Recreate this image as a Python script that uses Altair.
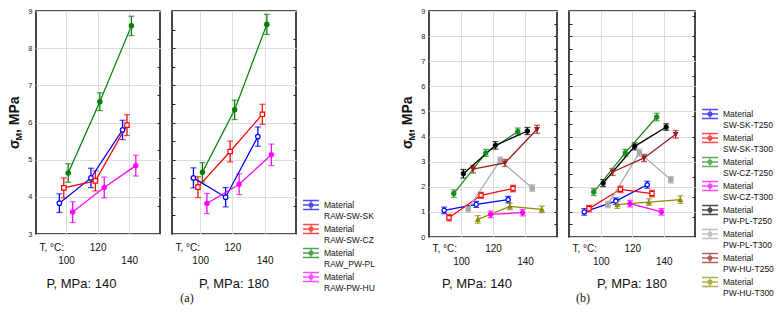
import altair as alt
import pandas as pd

# ---------------- data ----------------
T_VALUES = [100, 120, 140]
P_VALUES = [140, 180]

A_SERIES = ["RAW-SW-SK", "RAW-SW-CZ", "RAW_PW-PL", "RAW-PW-HU"]
A140_MEAN = [[3.83, 4.51, 5.80], [4.24, 4.43, 5.93], [4.64, 6.56, 8.60], [3.59, 4.25, 4.84]]
A140_ERR = [[0.25, 0.26, 0.26], [0.27, 0.27, 0.28], [0.25, 0.24, 0.26], [0.28, 0.28, 0.28]]
A180_MEAN = [[4.51, 3.99, 5.62], [4.26, 5.22, 6.22], [4.66, 6.34, 8.64], [3.82, 4.34, 5.13]]
A180_ERR = [[0.27, 0.26, 0.26], [0.28, 0.28, 0.27], [0.26, 0.26, 0.27], [0.27, 0.28, 0.29]]

B_SERIES = ["SW-SK-T250", "SW-SK-T300", "SW-CZ-T250", "SW-CZ-T300",
            "PW-PL-T250", "PW-PL-T300", "PW-HU-T250", "PW-HU-T300"]
B140_MEAN = [[1.06, 1.30, 1.49], [0.77, 1.66, 1.93], [1.73, 3.35, 4.20], [None, 0.90, 0.97],
             [2.52, 3.65, 4.22], [1.13, 3.05, 1.95], [2.70, 2.95, 4.29], [0.70, 1.22, 1.10]]
B140_ERR = [[0.13, 0.12, 0.13], [0.13, 0.12, 0.13], [0.15, 0.14, 0.14], [0.13, 0.13, 0.13],
            [0.17, 0.15, 0.14], [0.13, 0.14, 0.13], [0.15, 0.14, 0.16], [0.15, 0.13, 0.13]]
B180_MEAN = [[1.00, 1.43, 2.08], [1.13, 1.90, 1.73], [1.79, 3.35, 4.78], [None, 1.33, 1.00],
             [2.15, 3.61, 4.38], [1.30, 3.36, 2.28], [2.59, 3.15, 4.09], [1.29, 1.39, 1.49]]
B180_ERR = [[0.13, 0.13, 0.14], [0.13, 0.13, 0.13], [0.14, 0.14, 0.15], [0.13, 0.13, 0.13],
            [0.14, 0.14, 0.13], [0.13, 0.14, 0.13], [0.14, 0.14, 0.15], [0.15, 0.13, 0.15]]

# ---------------- styles ----------------
A_COLORS = ["#0000ff", "#ff0000", "#008000", "#ff00ff"]
A_SHAPES = ["circle", "square", "circle", "circle"]
A_FILLS = ["#ffffff", "#ffffff", "#008000", "#ff00ff"]
A_SIZES = [20, 18, 6, 3]
A_OFFSETS = [-4.2, -1.4, 1.4, 4.2]

B_COLORS = ["#0000ff", "#ff0000", "#1a8c1a", "#ff00ff", "#000000", "#a8a8a8", "#9b1b1b", "#8c8c00"]
B_SHAPES = ["circle", "square", "circle", "circle", "circle", "square", "triangle-down", "triangle-up"]
B_FILLS = ["#ffffff", "#ffffff", "#1a8c1a", "#ff00ff", "#000000", "#a8a8a8", "#9b1b1b", "#8c8c00"]
B_SIZES = [18, 16, 10, 3, 12, 12, 6, 5]
B_OFFSETS = [-10.5, -7.5, -4.5, -1.5, 1.5, 4.5, 7.5, 10.5]

FONT = "Liberation Sans"
GRID = "#dcdcdc"
SYMBOL = ("M-1,-0.56H1M-1,0.56H1M0,-0.56V0.56M-1,0H1"
          "M-0.24,0a0.24,0.24 0 1,0 0.48,0a0.24,0.24 0 1,0 -0.48,0")


def text_layer(text, x, y, size, **kw):
    return alt.Chart(pd.DataFrame({"t": [text]})).mark_text(
        fontSize=size, font=kw.pop("font", FONT), color="#111", **kw
    ).encode(text="t:N", x=alt.value(x), y=alt.value(y))


def panel(series, colors, shapes, fills, sizes, offsets, means, errs, P,
          xdomain, width, height, ydomain, yvals, left_labels, left_ticks,
          right_ticks, lab_pad, ptext_x, legend, extras):
    rows = []
    for i, s in enumerate(series):
        for j, t in enumerate(T_VALUES):
            m = means[i][j]
            if m is None:
                continue
            rows.append({"series": s, "T": t, "mean": m,
                         "lo": m - errs[i][j], "hi": m + errs[i][j], "off": offsets[i]})
    df = pd.DataFrame(rows)
    base = alt.Chart(df).transform_calculate(xpos="datum.T + datum.off",
                                             marker="'m_' + datum.series")
    mdom = ["m_" + s for s in series]

    xaxis = alt.Axis(values=T_VALUES, title="T, °C:", titleX=3, titleY=lab_pad[0] + 5,
                     titleAlign="left", titleBaseline="middle", titleFontWeight="normal",
                     titleFontSize=10, titleFont=FONT, titleColor="#111",
                     labelFontSize=10, labelFont=FONT, labelColor="#111",
                     labelPadding=alt.condition("datum.value == 120",
                                                alt.value(lab_pad[0]), alt.value(lab_pad[1])),
                     labelFlush=False, labelOverlap=False, ticks=False, domain=False,
                     grid=True, gridColor=GRID, gridWidth=1)
    x = alt.X("xpos:Q", scale=alt.Scale(domain=xdomain, nice=False, zero=False), axis=xaxis)
    yscale = alt.Scale(domain=ydomain, nice=False, zero=False)
    color = alt.Color("series:N", scale=alt.Scale(domain=series, range=colors), legend=legend)

    if left_labels:
        left_axis = alt.Axis(values=yvals, title=None, labelFontSize=7.5, labelFont=FONT,
                             labelColor="#222", ticks=False, domain=False, grid=True,
                             gridColor=GRID, labelPadding=4)
    else:
        left_axis = alt.Axis(values=left_ticks, title=None, labels=False, ticks=True,
                             tickSize=3, tickColor="#222", offset=-3, domain=False,
                             grid=False)
    right_axis = alt.Axis(orient="right", values=right_ticks, title=None, labels=False,
                          ticks=True, tickSize=3, tickColor="#222", offset=-3,
                          domain=False, grid=False)

    grid_layer = base.mark_rule(opacity=0).encode(
        x=x, y=alt.Y("mean:Q", scale=yscale,
                     axis=alt.Axis(values=yvals, grid=True, gridColor=GRID, labels=False,
                                   ticks=False, domain=False, title=None)))
    rule = base.mark_rule(strokeWidth=1.25).encode(
        x=x, y=alt.Y("lo:Q", scale=yscale, axis=right_axis), y2="hi:Q", color=color)
    cap_lo = base.mark_tick(orient="horizontal", size=6, thickness=1.25).encode(
        x=x, y=alt.Y("lo:Q", scale=yscale, axis=None), color=color)
    cap_hi = base.mark_tick(orient="horizontal", size=6, thickness=1.25).encode(
        x=x, y=alt.Y("hi:Q", scale=yscale, axis=None), color=color)
    line = base.mark_line(strokeWidth=1.25).encode(
        x=x, y=alt.Y("mean:Q", scale=yscale, axis=left_axis), color=color,
        detail="series:N")
    pts = base.mark_point(filled=False, strokeWidth=1.2, opacity=1).encode(
        x=x, y=alt.Y("mean:Q", scale=yscale, axis=None),
        stroke=alt.Stroke("marker:N", scale=alt.Scale(domain=mdom, range=colors), legend=None),
        fill=alt.Fill("marker:N", scale=alt.Scale(domain=mdom, range=fills), legend=None),
        shape=alt.Shape("marker:N", scale=alt.Scale(domain=mdom, range=shapes), legend=None),
        size=alt.Size("marker:N", scale=alt.Scale(domain=mdom, range=sizes), legend=None))
    ptxt = text_layer(f"P, MPa: {P}", ptext_x, 273, 13, align="center", baseline="middle")

    layers = [grid_layer, rule, cap_lo, cap_hi, line, pts, ptxt] + extras
    return alt.layer(*layers).resolve_axis(y="independent").properties(
        width=width, height=height)


def ytitle():
    return [
        text_layer("σ", -17.5, 138, 14, angle=270, align="left",
                   baseline="alphabetic", fontWeight="bold"),
        text_layer("M", -14.5, 129.5, 9, angle=270, align="left",
                   baseline="alphabetic", fontWeight="bold"),
        text_layer(", MPa", -17.5, 122, 14, angle=270, align="left",
                   baseline="alphabetic", fontWeight="bold"),
    ]


anchor = alt.Chart(pd.DataFrame({"a": [0]})).mark_rule(strokeOpacity=0, strokeWidth=0.1).encode(
    x=alt.value(-35), x2=alt.value(-35), y=alt.value(-10), y2=alt.value(-10))


def make_legend(lx, ly):
    return alt.Legend(orient="none", legendX=lx, legendY=ly, title=None,
                      symbolType=SYMBOL, symbolSize=256, symbolStrokeWidth=1.3,
                      symbolFillColor="transparent",
                      labelFontSize=8.5, labelFont=FONT, labelColor="#111",
                      labelExpr="['Material', datum.label]", labelBaseline="middle",
                      rowPadding=-1.8, labelOffset=4)


A_HALF = [3.5, 4, 4.5, 5, 5.5, 6, 6.5, 7, 7.5, 8, 8.5]
A_Q = [3.75, 4.5, 5.25, 6, 6.75, 7.5, 8.25]
B_HALF = [0.5, 1, 1.5, 2, 2.5, 3, 3.5, 4, 4.5, 5, 5.5, 6, 6.5, 7, 7.5, 8, 8.5]
B_Q = [0.8, 1.6, 2.4, 3.2, 4.0, 4.8, 5.6, 6.4, 7.2, 8.0, 8.8]

a1 = panel(A_SERIES, A_COLORS, A_SHAPES, A_FILLS, A_SIZES, A_OFFSETS, A140_MEAN, A140_ERR,
           P_VALUES[0], [81, 159.5], 124, 223, [3, 9], [3, 4, 5, 6, 7, 8, 9], True, None, A_Q,
           (8, 21), 45.5, None, [anchor] + ytitle())
a2 = panel(A_SERIES, A_COLORS, A_SHAPES, A_FILLS, A_SIZES, A_OFFSETS, A180_MEAN, A180_ERR,
           P_VALUES[1], [82.5, 159.5], 124, 223, [3, 9], [3, 4, 5, 6, 7, 8, 9], False, A_HALF,
           A_Q, (8, 21), 62, make_legend(130, 185),
           [text_layer("(a)", 15, 287, 12, font="Liberation Serif", align="center",
                       baseline="middle")])
spacer = alt.Chart(pd.DataFrame({"a": [0]})).mark_point(opacity=0).encode(
    x=alt.value(0), y=alt.value(0)).properties(
    width=109, height=223, view=alt.ViewBackground(strokeOpacity=0))
b1 = panel(B_SERIES, B_COLORS, B_SHAPES, B_FILLS, B_SIZES, B_OFFSETS, B140_MEAN, B140_ERR,
           P_VALUES[0], [80, 160], 128, 226, [0, 9], list(range(10)), True, None, B_HALF,
           (6, 19), 48, None, ytitle())
b2 = panel(B_SERIES, B_COLORS, B_SHAPES, B_FILLS, B_SIZES, B_OFFSETS, B180_MEAN, B180_ERR,
           P_VALUES[1], [79.8, 159.8], 126, 226, [0, 9], list(range(10)), False, B_HALF,
           B_Q, (6, 19), 63, make_legend(132, 94),
           [text_layer("(b)", 14, 287, 12, font="Liberation Serif", align="center",
                       baseline="middle")])

chart = alt.hconcat(a1, a2, spacer, b1, b2, spacing=12, bounds="flush").resolve_scale(
    color="independent", fill="independent", shape="independent", size="independent",
    stroke="independent", x="independent", y="independent"
).properties(padding=0).configure_view(stroke="#1a1a1a", strokeWidth=1.6)

chart.save("out.html", embed_options={"renderer": "svg", "actions": False})
